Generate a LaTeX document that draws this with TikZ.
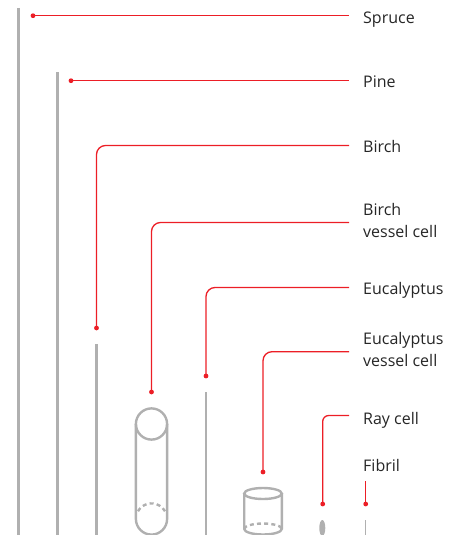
\documentclass[tikz,border=0pt]{standalone}
\usepackage{fontspec}
\setmainfont{Open Sans}
\definecolor{fibergray}{RGB}{176,176,176}
\definecolor{leaderred}{RGB}{236,30,38}
\definecolor{labeltext}{RGB}{38,38,38}
\begin{document}
\begin{tikzpicture}[x=1pt,y=-1pt,
  fiber/.style={draw=fibergray, line width=2.6pt},
  cellline/.style={draw=fibergray, line width=2.4pt},
  backline/.style={draw=fibergray, line width=2.4pt, dash pattern=on 4pt off 3.2pt},
  leader/.style={draw=leaderred, line width=1.3pt, rounded corners=9pt},
  dotmark/.style={circle, fill=leaderred, inner sep=0pt, minimum size=4.8pt},
  lbl/.style={anchor=base west, inner sep=0pt, text=labeltext, align=left,
    font=\fontsize{16}{22}\selectfont}]
\useasboundingbox (0,0) rectangle (449,535);
\clip (0,0) rectangle (449,535);

% fibres and cells
\draw[fiber] (18.5,8) -- (18.5,536);
\draw[fiber] (57.5,72) -- (57.5,536);
\draw[fiber] (96.5,344) -- (96.5,536);
\draw[fiber] (206,392) -- (206,536);
% birch vessel cell (tube)
\draw[cellline] (135.9,424) -- (135.9,519) arc[start angle=180, end angle=0, radius=15.6] -- (167.1,424);
\draw[cellline] (151.5,424) circle[radius=15.6];
\draw[backline] (151.5,519) ++(210:15.6) arc[start angle=210, end angle=330, radius=15.6];
% eucalyptus vessel cell (cylinder)
\draw[cellline] (263,493.5) ellipse[x radius=18.8, y radius=5.5];
\draw[cellline] (244.2,493.5) -- (244.2,529) arc[start angle=180, end angle=0, x radius=18.8, y radius=5.5] -- (281.8,493.5);
\draw[backline] (244.2,529) arc[start angle=180, end angle=360, x radius=18.8, y radius=5.5];
% ray cell and fibril
\fill[fibergray] (322.3,528) ellipse[x radius=3, y radius=8];
\draw[fibergray, line width=1.3pt] (365.7,520) -- (365.7,536);

% labels (base anchor sits on the last line)
\node[lbl] (tSpruce) at (363,24) {Spruce};
\node[lbl] (tPine) at (363,87) {Pine};
\node[lbl] (tBirch) at (363,152) {Birch};
\node[lbl] (tBirchV) at (363,237.7) {Birch\\vessel cell};
\node[lbl] (tEuc) at (363,294) {Eucalyptus};
\node[lbl] (tEucV) at (363,366) {Eucalyptus\\vessel cell};
\node[lbl] (tRay) at (363,424) {Ray cell};
\node[lbl] (tFib) at (363,471.5) {Fibril};

% leader dots
\node[dotmark] (dSpruce) at (33,15.7) {};
\node[dotmark] (dPine) at (71,80.7) {};
\node[dotmark] (dBirch) at (96.5,328) {};
\node[dotmark] (dBirchV) at (151.5,392) {};
\node[dotmark] (dEuc) at (206,376) {};
\node[dotmark] (dEucV) at (263,472) {};
\node[dotmark] (dRay) at (322.7,504) {};
\node[dotmark] (dFib) at (365.7,504) {};

% leader ends
\coordinate (eSpruce) at (349,15.7);
\coordinate (ePine) at (349,80.7);
\coordinate (eBirch) at (349,145.5);
\coordinate (eBirchV) at (349,222.5);
\coordinate (eEuc) at (349,287.5);
\coordinate (eEucV) at (349,351.7);
\coordinate (eRay) at (349,415.5);
\coordinate (eFib) at (365.7,480.5);

% leaders
\draw[leader] (dSpruce.center) -- (eSpruce);
\draw[leader] (dPine.center) -- (ePine);
\draw[leader] (dBirch.center) |- (eBirch);
\draw[leader] (dBirchV.center) |- (eBirchV);
\draw[leader] (dEuc.center) |- (eEuc);
\draw[leader] (dEucV.center) |- (eEucV);
\draw[leader, rounded corners=6pt] (dRay.center) |- (eRay);
\draw[leader] (dFib.center) -- (eFib);
\end{tikzpicture}
\end{document}
